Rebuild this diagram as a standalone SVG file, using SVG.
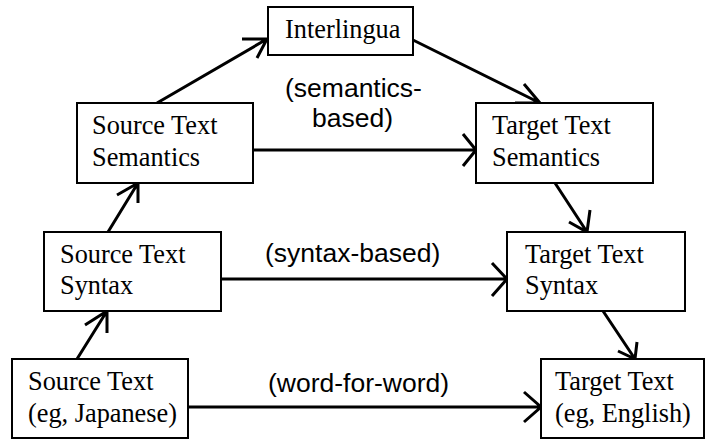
<svg xmlns="http://www.w3.org/2000/svg" width="706" height="440" viewBox="0 0 706 440">
<style>
.box{fill:#fff;stroke:#000;stroke-width:2}
.t{font-family:"Liberation Serif","Times New Roman",serif;font-size:26.3px;fill:#000}
.l{font-family:"Liberation Sans",Arial,sans-serif;font-size:26.5px;fill:#000}
.c{fill:none;stroke:#000;stroke-width:3;stroke-linecap:butt;stroke-linejoin:miter}
</style>
<rect width="706" height="440" fill="#fff"/>
<g id="connectors">
<path class="c" d="M157,103 L267,39 M242,39 L267,39 L257,58"/>
<path class="c" d="M413,40 L540,103 M524,84 L540,103 L515,103"/>
<path class="c" d="M253,150 L476,150 M463,134 L476,150 L463,166"/>
<path class="c" d="M108,232 L138,183 M117,195 L138,183 L138,203"/>
<path class="c" d="M555,183 L587,232 M569,222 L587,232 L590,210"/>
<path class="c" d="M221,279 L507,279 M492,263 L507,279 L492,296"/>
<path class="c" d="M77,359 L107,311 M85,325 L107,311 L107,333"/>
<path class="c" d="M603,311 L635,359 M618,351 L635,359 L637,342"/>
<path class="c" d="M188,407 L541,407 M524,392 L541,407 L524,422"/>
<text class="l" x="285" y="97">(semantics-</text>
<text class="l" x="312" y="127">based)</text>
<text class="l" x="265" y="262">(syntax-based)</text>
<text class="l" x="268" y="392">(word-for-word)</text>
</g>
<g id="interlingua">
<rect class="box" x="268" y="7" width="145" height="48"/>
<text class="t" x="285" y="38">Interlingua</text>
</g>
<g id="source-semantics">
<rect class="box" x="77" y="103" width="176" height="80"/>
<text class="t" x="92" y="134">Source Text</text>
<text class="t" x="92" y="166">Semantics</text>
</g>
<g id="target-semantics">
<rect class="box" x="476" y="103" width="177" height="80"/>
<text class="t" x="492" y="134">Target Text</text>
<text class="t" x="492" y="166">Semantics</text>
</g>
<g id="source-syntax">
<rect class="box" x="44" y="232" width="177" height="79"/>
<text class="t" x="60" y="263">Source Text</text>
<text class="t" x="60" y="294">Syntax</text>
</g>
<g id="target-syntax">
<rect class="box" x="507" y="232" width="178" height="79"/>
<text class="t" x="525" y="263">Target Text</text>
<text class="t" x="525" y="294">Syntax</text>
</g>
<g id="source-text">
<rect class="box" x="12" y="359" width="176" height="79"/>
<text class="t" x="28" y="390">Source Text</text>
<text class="t" x="28" y="422">(eg, Japanese)</text>
</g>
<g id="target-text">
<rect class="box" x="541" y="359" width="163" height="79"/>
<text class="t" x="555" y="390">Target Text</text>
<text class="t" x="555" y="422">(eg, English)</text>
</g>
</svg>
